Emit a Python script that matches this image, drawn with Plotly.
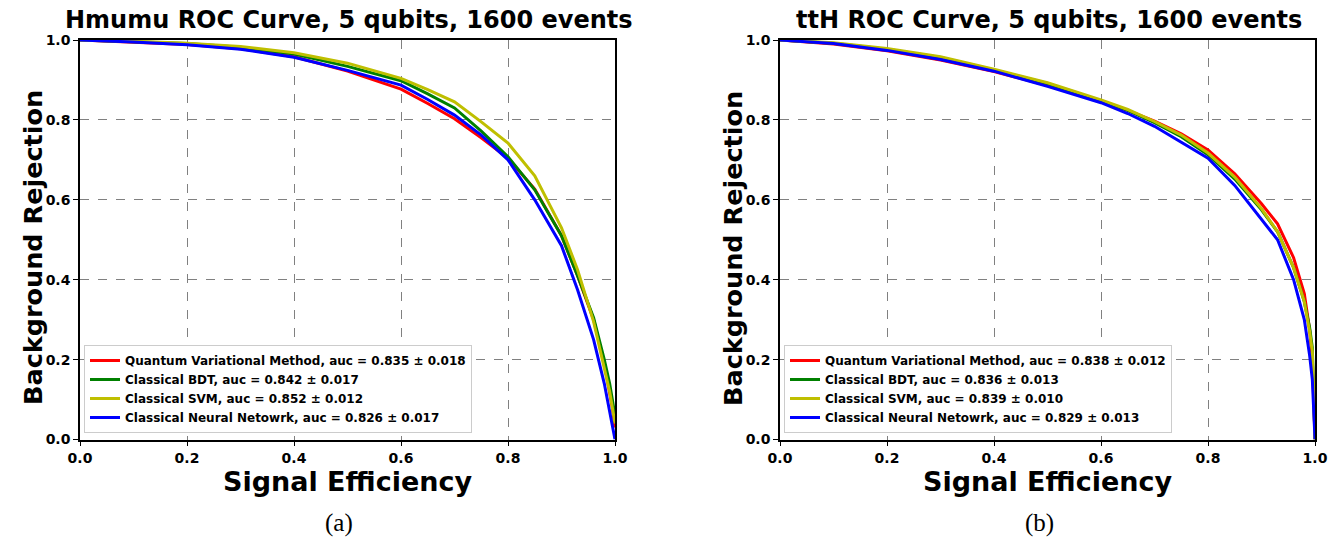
import plotly.graph_objects as go

# ---------------- data ----------------
sig_eff = [0.0, 0.1, 0.2, 0.3, 0.4, 0.5, 0.6, 0.65, 0.7, 0.75, 0.8, 0.85,
           0.9, 0.93, 0.96, 0.98, 0.99, 0.995, 1.0]

# Hmumu
hmumu_qvm = [1.0, 0.995, 0.989, 0.978, 0.958, 0.922, 0.877, 0.841, 0.803, 0.755,
             0.704, 0.627, 0.51, 0.41, 0.30, 0.19, 0.12, 0.08, 0.03]
hmumu_bdt = [1.0, 0.996, 0.991, 0.982, 0.965, 0.934, 0.898, 0.865, 0.830, 0.772,
             0.708, 0.625, 0.51, 0.41, 0.305, 0.20, 0.14, 0.10, 0.06]
hmumu_svm = [1.0, 0.997, 0.992, 0.984, 0.968, 0.942, 0.904, 0.876, 0.845, 0.795,
             0.742, 0.66, 0.53, 0.425, 0.295, 0.18, 0.12, 0.08, 0.04]
hmumu_nn = [1.0, 0.995, 0.988, 0.977, 0.957, 0.924, 0.887, 0.851, 0.812, 0.762,
            0.700, 0.60, 0.485, 0.375, 0.25, 0.14, 0.07, 0.035, 0.0]

# ttH
tth_qvm = [1.0, 0.990, 0.973, 0.950, 0.921, 0.886, 0.846, 0.824, 0.797, 0.765,
           0.725, 0.665, 0.59, 0.54, 0.455, 0.365, 0.275, 0.20, 0.0]
tth_bdt = [1.0, 0.992, 0.977, 0.956, 0.925, 0.891, 0.848, 0.824, 0.793, 0.758,
           0.713, 0.652, 0.575, 0.52, 0.43, 0.345, 0.28, 0.23, 0.0]
tth_svm = [1.0, 0.993, 0.979, 0.958, 0.927, 0.893, 0.850, 0.826, 0.796, 0.762,
           0.717, 0.657, 0.578, 0.52, 0.43, 0.345, 0.27, 0.22, 0.0]
tth_nn = [1.0, 0.991, 0.974, 0.951, 0.922, 0.884, 0.843, 0.816, 0.784, 0.745,
          0.704, 0.636, 0.55, 0.50, 0.40, 0.30, 0.21, 0.15, 0.0]

hmumu_labels = ["Quantum Variational Method, auc = 0.835 ± 0.018",
                "Classical BDT, auc = 0.842 ± 0.017",
                "Classical SVM, auc = 0.852 ± 0.012",
                "Classical Neural Netowrk, auc = 0.826 ± 0.017"]
tth_labels = ["Quantum Variational Method, auc = 0.838 ± 0.012",
              "Classical BDT, auc = 0.836 ± 0.013",
              "Classical SVM, auc = 0.839 ± 0.010",
              "Classical Neural Netowrk, auc = 0.829 ± 0.013"]

titles = ["Hmumu ROC Curve, 5 qubits, 1600 events",
          "ttH ROC Curve, 5 qubits, 1600 events"]
captions = ["(a)", "(b)"]
tick_vals = [0.0, 0.2, 0.4, 0.6, 0.8, 1.0]

colors = ["#ff0000", "#008000", "#bfbf00", "#0000ff"]

W, H = 1330, 542
FONT = "DejaVu Sans"

fig = go.Figure()

panels = [
    ("x", "y", "legend", hmumu_labels, [hmumu_qvm, hmumu_bdt, hmumu_svm, hmumu_nn]),
    ("x2", "y2", "legend2", tth_labels, [tth_qvm, tth_bdt, tth_svm, tth_nn]),
]
for xa, ya, leg, labels, series in panels:
    for lab, vals, col in zip(labels, series, colors):
        fig.add_trace(go.Scatter(x=sig_eff, y=vals, mode="lines", name=lab,
                                 line=dict(color=col, width=3),
                                 xaxis=xa, yaxis=ya, legend=leg))

# domains in pixels
x_doms = [(80, 615), (780, 1315)]
y_top, y_bot = 40, 439.5

axis_common = dict(range=[0, 1], tickvals=tick_vals, tickformat=".1f",
                   showline=True, linecolor="black", linewidth=1.5, mirror=True,
                   ticks="outside", ticklen=5, tickcolor="black", automargin=False,
                   showgrid=True, gridcolor="#808080", griddash="dash", gridwidth=1,
                   zeroline=False,
                   tickfont=dict(family=FONT, size=14, color="black", weight="bold"))

ydom = [1 - y_bot / H, 1 - y_top / H]
fig.update_layout(
    xaxis=dict(domain=[x_doms[0][0] / W, x_doms[0][1] / W], anchor="y", **axis_common),
    yaxis=dict(domain=ydom, anchor="x", **axis_common),
    xaxis2=dict(domain=[x_doms[1][0] / W, x_doms[1][1] / W], anchor="y2", **axis_common),
    yaxis2=dict(domain=ydom, anchor="x2", **axis_common),
)

leg_common = dict(bgcolor="white", bordercolor="#cccccc", borderwidth=1,
                  font=dict(family=FONT, size=12, color="black", weight="bold"),
                  xanchor="left", yanchor="bottom", y=1 - 433 / H,
                  tracegroupgap=0, itemwidth=30)
fig.update_layout(
    legend=dict(x=84 / W, **leg_common),
    legend2=dict(x=784 / W, **leg_common),
)

annotations = []
for i, (x0, x1) in enumerate(x_doms):
    cx = (x0 + x1) / 2 / W
    annotations.append(dict(text=titles[i], x=cx + 1 / W, y=1 - 20 / H, xref="paper",
                            yref="paper", showarrow=False, xanchor="center", yanchor="middle",
                            font=dict(family=FONT, size=24, color="black", weight="bold")))
    annotations.append(dict(text="Signal Efficiency", x=cx, y=1 - 481 / H, xref="paper",
                            yref="paper", showarrow=False, xanchor="center", yanchor="middle",
                            font=dict(family=FONT, size=27, color="black", weight="bold")))
    annotations.append(dict(text="Background Rejection", x=(x0 - 47) / W,
                            y=1 - 248 / H, xref="paper", yref="paper", showarrow=False,
                            textangle=-90, xanchor="center", yanchor="middle",
                            font=dict(family=FONT, size=25.5, color="black", weight="bold")))
    annotations.append(dict(text=captions[i], x=(x0 + 259) / W, y=1 - 523 / H, xref="paper",
                            yref="paper", showarrow=False, xanchor="center", yanchor="middle",
                            font=dict(family="Liberation Serif", size=25, color="black")))

fig.update_layout(annotations=annotations, width=W, height=H,
                  margin=dict(l=0, r=0, t=0, b=0),
                  paper_bgcolor="white", plot_bgcolor="white", showlegend=True)

fig.write_html("out.html")
